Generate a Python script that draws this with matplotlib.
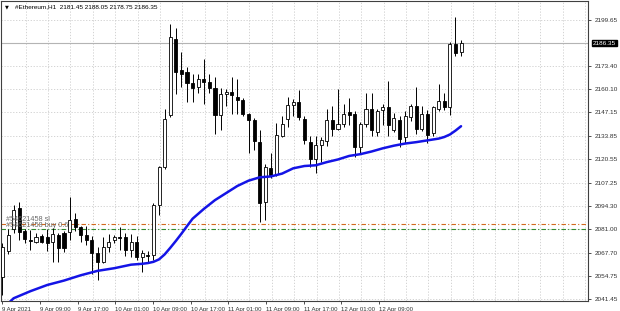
"""
plot.py - MT4 style H1 candle chart of #Ethereum with a moving average.
"""

import numpy as np
import matplotlib
matplotlib.use("Agg")
import matplotlib.pyplot as plt
from matplotlib.patches import Rectangle

plt.rcParams["font.family"] = ["Liberation Sans", "DejaVu Sans"]

# ── Data ──
opens = [2054, 2069, 2081, 2093, 2080, 2075, 2074, 2077, 2076.5, 2074,
         2077.8, 2078.7, 2079.5, 2086.6, 2082.1, 2077.8, 2075, 2067.5, 2062.7, 2071.1,
         2075, 2076.5, 2076.6, 2069.3, 2074, 2065.2, 2066.5, 2066.5, 2094.7, 2116.3,
         2145.5, 2188.8, 2171.3, 2169.9, 2163.7, 2161.4, 2166.2, 2164.3, 2161.1, 2145.5,
         2157.7, 2158.6, 2155.8, 2154.3, 2146, 2143, 2130.4, 2096.6, 2115.7, 2112.5,
         2134, 2143.6, 2151.1, 2152.9, 2143.6, 2130.4, 2121, 2128.6, 2131, 2142.7,
         2138, 2140.6, 2147.3, 2146.4, 2127.6, 2140.8, 2149.1, 2136, 2148.3, 2150.2,
         2137, 2142.7, 2133.2, 2144.5, 2150.5, 2138, 2146.4, 2135.2, 2149.3, 2153.5,
         2150.2, 2185.9, 2181.45]
highs = [2073, 2081, 2095, 2096.5, 2081, 2080.5, 2079, 2078.5, 2081, 2081.6,
         2079, 2080, 2099.4, 2090.5, 2083, 2083, 2077, 2071, 2076.8, 2078.5,
         2077.5, 2082.4, 2079, 2078.5, 2077, 2069.3, 2069, 2096, 2117, 2149.2,
         2197.2, 2195, 2181.2, 2172.7, 2169, 2169, 2177.5, 2169, 2167, 2160.9,
         2160.5, 2167, 2166, 2155, 2147, 2144, 2137, 2118, 2124, 2141,
         2145, 2155.6, 2154.5, 2160, 2145, 2133.5, 2133.5, 2133.2, 2149, 2150.7,
         2160.5, 2152, 2155, 2148, 2141.5, 2158, 2158, 2149, 2152, 2165,
         2146.5, 2145, 2148, 2152, 2161.4, 2150.5, 2148.5, 2151, 2163.4, 2158,
         2186.8, 2201.3, 2188.05]
lows = [2044, 2067, 2079, 2075, 2073, 2069.5, 2073, 2073, 2069, 2062.7,
        2062.7, 2068, 2074.9, 2080, 2074, 2072, 2056, 2052.3, 2061.8, 2068,
        2073.5, 2069.3, 2066, 2065.5, 2063.5, 2057, 2062, 2063.6, 2089, 2115,
        2144.5, 2157.7, 2161.4, 2153, 2153, 2158, 2152, 2158, 2135, 2137,
        2151, 2146, 2146, 2145, 2124, 2125.7, 2085.2, 2086, 2110, 2111,
        2133, 2139, 2145, 2143, 2129, 2116, 2113, 2119.1, 2128, 2134,
        2137, 2139, 2140, 2122, 2124, 2139, 2134, 2134, 2140, 2134,
        2136, 2127.6, 2130, 2142.5, 2135, 2136.5, 2130, 2133.5, 2148, 2148.5,
        2145.5, 2179, 2178.75]
closes = [2071, 2078, 2092, 2079.5, 2075.5, 2074.5, 2076.5, 2074, 2073.5, 2078.3,
          2070.2, 2070.2, 2086.2, 2082.1, 2077.8, 2074.9, 2067.5, 2062.5, 2071.1, 2074,
          2076.5, 2076, 2069.3, 2074, 2065.5, 2067.4, 2066, 2094.7, 2116.3, 2143.6,
          2189.7, 2169.9, 2168.6, 2163.7, 2161.1, 2166.2, 2164.3, 2161.1, 2145.5, 2157.7,
          2158.6, 2156.8, 2154, 2146, 2143, 2131, 2095.6, 2116.3, 2111.6, 2134.2,
          2140.8, 2151.1, 2152.9, 2144.5, 2131.4, 2121, 2128.6, 2131.4, 2143, 2138,
          2140.6, 2146.4, 2145.9, 2127.6, 2140.8, 2149.1, 2137, 2148, 2150.2, 2139.8,
          2144.2, 2132.3, 2144.9, 2150.5, 2138, 2146, 2134.2, 2150.2, 2153.5, 2150.2,
          2185.9, 2180.6, 2186.35]

# moving average, sampled at these bars
ma_bars = [1, 2, 5, 8, 11, 14, 17, 20, 23, 25, 26, 27, 28, 29, 30, 31, 32, 33,
           34, 36, 38, 40, 42, 44, 46, 48, 50, 52, 54, 56, 58, 60, 62, 64, 66,
           68, 70, 72, 74, 76, 78, 79, 80, 81, 82]
ma_vals = [2039, 2042, 2046, 2049.5, 2052, 2055, 2057.5, 2059, 2061, 2061.5,
           2061.9, 2062.6, 2064, 2066.8, 2070.5, 2074.4, 2078.5, 2082.8, 2087,
           2092.5, 2097.5, 2101.5, 2105.5, 2108.5, 2110.4, 2110.9, 2112.5,
           2115.5, 2116.8, 2117.2, 2119, 2120.5, 2122.5, 2123.5, 2125, 2126.8,
           2128.3, 2129.5, 2130.3, 2131.3, 2132.3, 2133.2, 2134.6, 2136.8,
           2139.3]

price_ticks = [2199.65, 2173.40, 2160.10, 2147.15, 2133.85, 2120.55, 2107.25,
               2094.30, 2081.00, 2067.70, 2054.75, 2041.45]
time_labels = ["9 Apr 2021", "9 Apr 09:00", "9 Apr 17:00", "10 Apr 01:00",
               "10 Apr 09:00", "10 Apr 17:00", "11 Apr 01:00", "11 Apr 09:00",
               "11 Apr 17:00", "12 Apr 01:00", "12 Apr 09:00"]

symbol = "#Ethereum,H1"
bid = 2186.35
sl_level = 2084.0
buy_level = 2081.1
sl_text = "#54621458 sl"
buy_text = "#54621458 buy 0.6"

# ── Figure ──
W, H = 620, 311
fig = plt.figure(figsize=(W / 100, H / 100), dpi=100)
ax = fig.add_axes([0.5 / W, 10 / H, 587.5 / W, 300.5 / H])

n = len(opens)
ax.set_xlim(-0.35, 104.7)
ax.set_ylim(2040.45, 2210.4)

# grid
for p in price_ticks + [bid]:
    ax.axhline(p, color="#cccccc", lw=0.6, ls=(0, (1.5, 2)), zorder=0)
for g in np.arange(4.16, 105, 4):
    ax.axvline(g, color="#cccccc", lw=0.6, ls=(0, (1.5, 2)), zorder=0)

# bid line
ax.axhline(bid, color="#b4b4b4", lw=0.8, zorder=1)

# order lines
ax.axhline(sl_level, color="#d2691e", lw=0.8, ls=(0, (4, 2, 1, 2)), zorder=1)
ax.axhline(buy_level, color="#2e8b2e", lw=0.8, ls=(0, (4, 2, 1, 2)), zorder=1)
ax.text(0.6, sl_level + 0.5, sl_text, fontsize=5.2, color="#6a6a6a",
        va="bottom", ha="left", zorder=5)
ax.text(0.6, buy_level + 0.3, buy_text, fontsize=5.2, color="#6a6a6a",
        va="bottom", ha="left", zorder=5)

# candles
bw = 0.55
for i in range(n):
    o, h, l, c = opens[i], highs[i], lows[i], closes[i]
    ax.vlines(i, l, h, color="black", lw=0.7, zorder=3)
    lo, hi = min(o, c), max(o, c)
    hgt = max(hi - lo, 0.35)
    face = "white" if c >= o else "black"
    ax.add_patch(Rectangle((i - bw / 2, lo), bw, hgt, facecolor=face,
                           edgecolor="black", lw=0.6, zorder=4))

# moving average
ax.plot(ma_bars, ma_vals, color="#1414e6", lw=1.8, zorder=6,
        solid_capstyle="round", solid_joinstyle="round")

# axes styling
for s in ax.spines.values():
    s.set_color("#404040")
    s.set_linewidth(0.8)
ax.yaxis.tick_right()
ax.set_yticks(price_ticks)
ax.set_yticklabels([f"{p:.2f}" for p in price_ticks])
ax.tick_params(axis="y", direction="out", length=2.5, width=0.6,
               labelsize=4.6, pad=2.5, colors="#303030")
tick_pos = [k * 6.73 for k in range(len(time_labels))]
ax.set_xticks(tick_pos)
ax.set_xticklabels(time_labels, ha="left")
ax.tick_params(axis="x", direction="out", length=2.5, width=0.6,
               labelsize=4.3, pad=1.5, colors="#303030")

# bid label box
ax.text(1.008, (bid - 2040.45) / (2210.4 - 2040.45), f"{bid:.2f}",
        transform=ax.transAxes, fontsize=4.6, color="white", va="center",
        ha="left", zorder=10, clip_on=False,
        bbox=dict(boxstyle="square,pad=0.15", fc="black", ec="black"))

# header
ax.text(0.008, 0.978, "\u25BC", transform=ax.transAxes, fontsize=3.6,
        va="center", ha="left", family="DejaVu Sans")
ax.text(0.024, 0.978, f"{symbol}  2181.45 2188.05 2178.75 2186.35",
        transform=ax.transAxes, fontsize=4.6, va="center", ha="left")

fig.savefig("out.png", dpi=100)
